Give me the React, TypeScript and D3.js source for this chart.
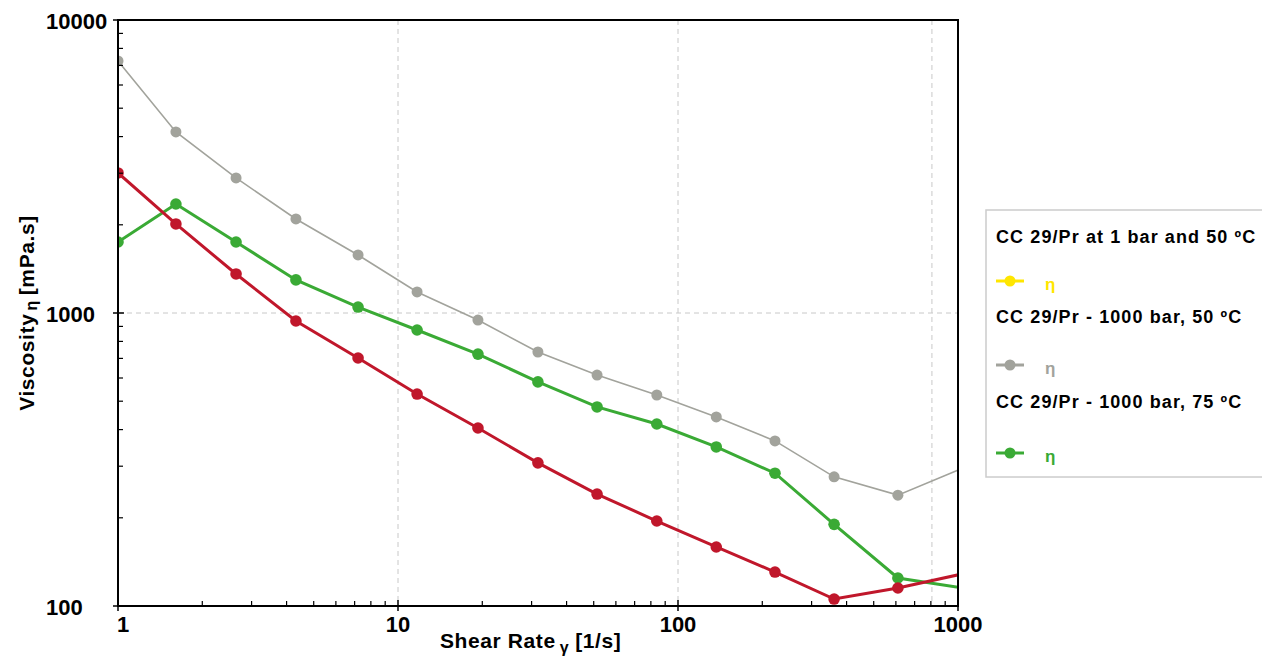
import React from "react";
import * as d3 from "d3";

const shearRates = [1, 1.61, 2.64, 4.32, 7.2, 11.7, 19.3, 31.6, 51.4, 84, 137, 222, 361, 610, 1610];
const grayValues = [7250, 4150, 2890, 2094, 1578, 1180, 946, 736, 614, 525, 442, 366, 276, 239, 352];
const greenValues = [1747, 2355, 1747, 1297, 1048, 875, 724, 582, 478, 418, 349, 284, 190, 124.6, 108];
const redValues = [3006, 2013, 1359, 939, 702, 529, 405, 308, 241, 195, 159, 130.6, 105.6, 115.2, 141];

const xTickValues = [1, 10, 100, 1000];
const xTickLabels = ["1", "10", "100", "1000"];
const yTickValues = [100, 1000, 10000];
const yTickLabels = ["100", "1000", "10000"];
const xGridValues = [10, 100, 807];
const yGridValues = [1000];

const legendTitles = [
  "CC 29/Pr at 1 bar and 50 ºC",
  "CC 29/Pr - 1000 bar, 50 ºC",
  "CC 29/Pr - 1000 bar, 75 ºC",
];
const legendColors = ["#ffe600", "#a2a39c", "#3aaa35"];

const W = 1262, H = 659;
const L = 118, R = 958, T = 20, B = 606;
const FONT = "'Liberation Sans', Arial, Helvetica, sans-serif";

export default function App() {
  const x = d3.scaleLog().domain([1, 1000]).range([L, R]);
  const y = d3.scaleLog().domain([100, 10000]).range([B, T]);
  const line = d3.line<number>().x((_, i) => x(shearRates[i])).y((v) => y(v));

  const minorX: number[] = [];
  for (const d of [1, 10, 100]) for (let k = 2; k <= 9; k++) minorX.push(d * k);
  const minorY: number[] = [];
  for (const d of [100, 1000]) for (let k = 2; k <= 9; k++) minorY.push(d * k);

  const series = [
    { vals: grayValues, color: "#a2a39c", w: 1.6, r: 5.5 },
    { vals: greenValues, color: "#3aaa35", w: 3, r: 5.8 },
    { vals: redValues, color: "#c0172b", w: 3, r: 5.8 },
  ];

  return (
    <svg width={W} height={H} style={{ position: "absolute", left: 0, top: 0, background: "#fff" }}>
      <defs>
        <clipPath id="plot">
          <rect x={L} y={T} width={R - L} height={B - T} />
        </clipPath>
      </defs>
      {xGridValues.map((v) => (
        <line key={"gx" + v} x1={x(v)} x2={x(v)} y1={T} y2={B} stroke="#c8c8c8" strokeWidth={1} strokeDasharray="5,4" />
      ))}
      {yGridValues.map((v) => (
        <line key={"gy" + v} x1={L} x2={R} y1={y(v)} y2={y(v)} stroke="#c8c8c8" strokeWidth={1} strokeDasharray="5,4" />
      ))}
      <g clipPath="url(#plot)">
        {series.map((s, si) => (
          <g key={si}>
            <path d={line(s.vals) || ""} fill="none" stroke={s.color} strokeWidth={s.w} />
            {s.vals.map((v, i) => (
              <circle key={i} cx={x(shearRates[i])} cy={y(v)} r={s.r} fill={s.color} />
            ))}
          </g>
        ))}
      </g>
      <rect x={L} y={T} width={R - L} height={B - T} fill="none" stroke="#000" strokeWidth={2} />
      {minorX.map((v) => (
        <line key={"mx" + v} x1={x(v)} x2={x(v)} y1={B} y2={B - 5} stroke="#000" strokeWidth={1.2} />
      ))}
      {minorY.map((v) => (
        <line key={"my" + v} x1={L} x2={L + 5} y1={y(v)} y2={y(v)} stroke="#000" strokeWidth={1.2} />
      ))}
      {xTickValues.map((v) => (
        <line key={"tx" + v} x1={x(v)} x2={x(v)} y1={B - 6} y2={B + 5} stroke="#000" strokeWidth={1.5} />
      ))}
      {yTickValues.map((v) => (
        <line key={"ty" + v} x1={L - 5} x2={L + 6} y1={y(v)} y2={y(v)} stroke="#000" strokeWidth={1.5} />
      ))}
      {xTickValues.map((v, i) => (
        <text key={"lx" + v} x={i === 0 ? x(v) + 5 : x(v)} y={B + 26} textAnchor="middle" fontFamily={FONT} fontWeight="bold" fontSize={22} fill="#000">
          {xTickLabels[i]}
        </text>
      ))}
      {yTickValues.map((v, i) => (
        <text key={"ly" + v} x={46} y={y(v) + 9} textAnchor="start" fontFamily={FONT} fontWeight="bold" fontSize={22} fill="#000">
          {yTickLabels[i]}
        </text>
      ))}
      <text x={440} y={648} textAnchor="start" fontFamily={FONT} fontWeight="bold" fontSize={21} letterSpacing={0.6} fill="#000">
        Shear Rate
        <tspan fontSize={16} dy={5} dx={4}>γ</tspan>
        <tspan dy={-5} dx={6}>[1/s]</tspan>
      </text>
      <text transform={`translate(34, 313) rotate(-90)`} textAnchor="middle" fontFamily={FONT} fontWeight="bold" fontSize={21} letterSpacing={0.6} fill="#000">
        Viscosity
        <tspan fontSize={16} dy={3} dx={3}>η</tspan>
        <tspan dy={-3} dx={5}>[mPa.s]</tspan>
      </text>
      <rect x={986} y={210} width={290} height={267} fill="#fff" stroke="#cccccc" strokeWidth={1.5} />
      {legendTitles.map((t, i) => {
        const ty = [243, 323, 408][i];
        const my = [281, 365, 453][i];
        return (
          <g key={"lg" + i}>
            <text x={996} y={ty} fontFamily={FONT} fontWeight="bold" fontSize={18} letterSpacing={1.1} fill="#000">{t}</text>
            <line x1={996} x2={1024} y1={my} y2={my} stroke={legendColors[i]} strokeWidth={3} />
            <circle cx={1010} cy={my} r={5.5} fill={legendColors[i]} />
            <text x={1045} y={my + 9} fontFamily={FONT} fontWeight="bold" fontSize={17} fill={legendColors[i]}>η</text>
          </g>
        );
      })}
    </svg>
  );
}
